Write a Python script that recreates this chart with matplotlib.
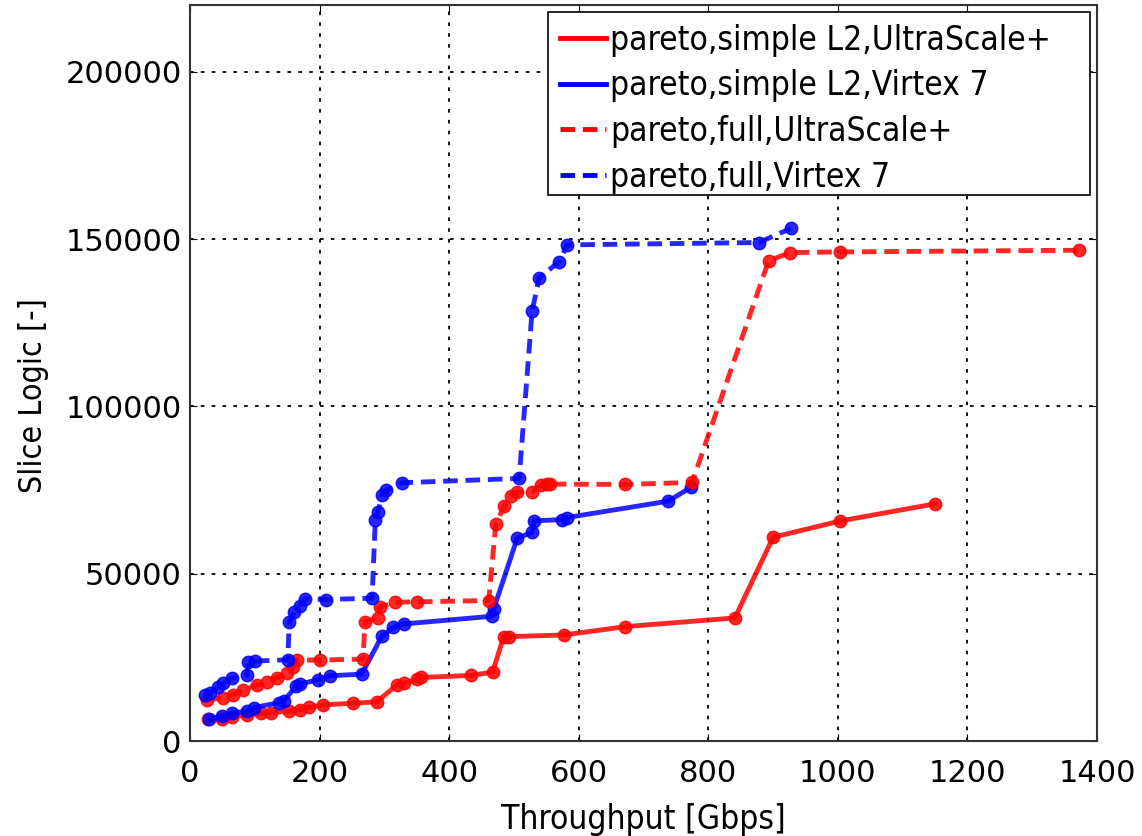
import matplotlib
matplotlib.use('Agg')
import matplotlib.pyplot as plt
from matplotlib.patches import Rectangle

# pareto, simple L2, UltraScale+
su_x = [28, 49, 65, 88, 109, 125, 153, 169, 184, 205, 252, 288, 319, 330, 351, 356,
        434, 467, 484, 492, 577, 672, 841, 900, 1004, 1150]
su_y = [6500, 6700, 7300, 7700, 8300, 8500, 8900, 9300, 10100, 10800, 11300, 11700,
        16700, 17300, 18500, 19000, 19600, 20600, 31100, 31200, 31700, 34200, 36800,
        60900, 65800, 70900]

# pareto, simple L2, Virtex 7
sv_x = [29, 49, 65, 88, 99, 138, 145, 164, 169, 197, 216, 265, 296, 314, 330, 466, 469,
        505, 528, 531, 574, 582, 738, 773]
sv_y = [6500, 7500, 8300, 9000, 10000, 11500, 12000, 16500, 17000, 18300, 19500, 20000,
        31300, 34000, 35000, 37300, 39600, 60600, 62400, 65800, 66200, 66800, 71700, 75800]

# pareto, full, UltraScale+
fu_x = [26, 51, 66, 82, 103, 119, 134, 150, 159, 165, 201, 267, 270, 290, 293, 317, 351,
        461, 472, 485, 495, 505, 528, 541, 551, 556, 672, 775, 893, 926, 1003, 1372]
fu_y = [12300, 12900, 13700, 15200, 16700, 17600, 18800, 20300, 22100, 24200, 24200,
        24500, 35600, 36800, 40000, 41500, 41600, 42000, 64900, 70300, 73300, 74300, 74500,
        76400, 76700, 76800, 76700, 77300, 143500, 146000, 146200, 146700]

# pareto, full, Virtex 7
fv_x = [23, 31, 43, 51, 65, 88, 90, 100, 151, 153, 161, 169, 177, 210, 281, 286, 290,
        296, 303, 327, 508, 528, 539, 570, 582, 878, 927]
fv_y = [13750, 14400, 16100, 17300, 18800, 19700, 23600, 23900, 24300, 35500, 38500,
        40500, 42500, 42300, 42700, 66100, 68500, 73500, 75000, 77200, 78500, 128500,
        138500, 143300, 148300, 149000, 153200]

plt.rcParams['font.family'] = ['DejaVu Sans']

fig = plt.figure(figsize=(11.42, 8.36), dpi=100)
ax = fig.add_axes([0.1664, 0.1136, 0.7942, 0.8804])

dash = (0, (3.0, 1.6))
ax.plot(su_x, su_y, color='red', lw=3.5, marker='o', ms=9, alpha=0.85,
        label='pareto,simple L2,UltraScale+')
ax.plot(sv_x, sv_y, color='blue', lw=3.5, marker='o', ms=9, alpha=0.85,
        label='pareto,simple L2,Virtex 7')
ax.plot(fu_x, fu_y, color='red', lw=3.5, ls=dash, marker='o', ms=9, alpha=0.85,
        label='pareto,full,UltraScale+')
ax.plot(fv_x, fv_y, color='blue', lw=3.5, ls=dash, marker='o', ms=9, alpha=0.85,
        label='pareto,full,Virtex 7')

ax.set_xlim(0, 1400)
ax.set_ylim(0, 220000)
ax.set_xticks(range(0, 1401, 200))
ax.set_yticks(range(0, 200001, 50000))
ax.tick_params(direction='in', top=True, right=True, labelsize=22, length=5)
ax.tick_params(axis='x', pad=13)
ax.tick_params(axis='y', pad=6)
ax.grid(True, color='black', ls=(0, (2, 4)), lw=1.3)
for s in ax.spines.values():
    s.set_linewidth(1.5)
    s.set_color('#333333')

ax.set_xlabel('Throughput [Gbps]', fontsize=24, fontstretch='condensed', labelpad=11)
ax.set_ylabel('Slice Logic [-]', fontsize=23, fontstretch='condensed')
ax.yaxis.set_label_coords(-0.155, 0.47)

# legend box is wider than its text in the original
box = Rectangle((0.3947, 0.7418), 0.5976, 0.2487, transform=ax.transAxes,
                facecolor='white', edgecolor='black', lw=1.2, zorder=4.9)
ax.add_patch(box)
leg = ax.legend(loc='upper left', bbox_to_anchor=(0.3947, 0.9905),
                prop={'stretch': 'condensed', 'size': 24}, frameon=False,
                handlelength=1.4, handletextpad=0.12, labelspacing=0.38,
                borderaxespad=0.0, borderpad=0.35)
leg.set_zorder(5)
for h in leg.legend_handles:
    h.set_marker('')
    h.set_alpha(1)

fig.savefig('out.png', dpi=100)
